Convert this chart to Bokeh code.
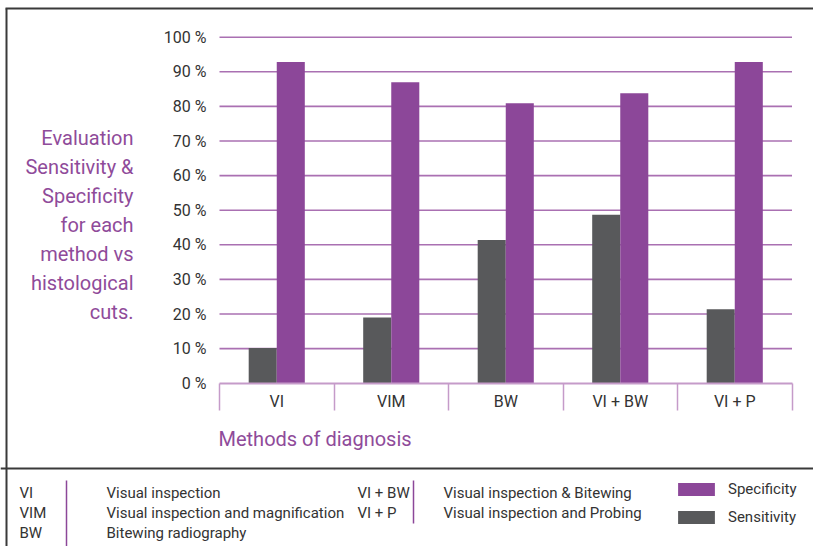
from bokeh.plotting import figure
from bokeh.models import (Range1d, FixedTicker, PrintfTickFormatter,
                          Label, Legend, LegendItem, ColumnDataSource)
from bokeh.embed import file_html
from bokeh.resources import INLINE

# ---------------- data ----------------
categories = ["VI", "VIM", "BW", "VI + BW", "VI + P"]
sensitivity = [10.2, 19.0, 41.4, 48.7, 21.4]
specificity = [92.8, 87.0, 80.9, 83.8, 92.8]
y_ticks = [0, 10, 20, 30, 40, 50, 60, 70, 80, 90, 100]
series_names = ["Specificity", "Sensitivity"]
abbrev_left = ["VI", "VIM", "BW"]
desc_left = ["Visual inspection", "Visual inspection and magnification", "Bitewing radiography"]
abbrev_right = ["VI + BW", "VI  + P"]
desc_right = ["Visual inspection & Bitewing", "Visual inspection and Probing"]
y_title_lines = ["Evaluation", "Sensitivity &", "Specificity", "for each",
                 "method vs", "histological", "cuts."]
x_title = "Methods of diagnosis"

# ---------------- style ----------------
FONT = "Roboto"
PURPLE = "#8c4799"
GRAY = "#58595b"
TEXT = "#333333"
TITLE = "#8f4b9a"
GRID = "#aa70b2"
AXIS = "#c59bc9"
BORDER = "#3a3a3a"

# ---------------- layout (canvas pixels) ----------------
W, H = 813, 546
X0_PX, XU = 219.0, 114.5          # left edge of the category band, px per category
ZERO_PX, YU = 382.7, 3.46         # 0 % line, px per percent


def X(px):
    return (px - X0_PX) / XU


def Y(py):
    return (ZERO_PX - py) / YU


n = len(categories)
idx = list(range(n))
centers = [i + 0.5 for i in idx]
bw = 0.245

source = ColumnDataSource(dict(
    cat=categories,
    x_sens=[c - bw / 2 for c in centers],
    x_spec=[c + bw / 2 for c in centers],
    sens=sensitivity, spec=specificity))

p = figure(width=W, height=H, x_range=Range1d(X(0), X(W)), y_range=Range1d(Y(H), Y(0)),
           output_backend="svg", toolbar_location=None, tools="",
           min_border=0, min_border_left=0, min_border_right=0,
           min_border_top=0, min_border_bottom=0)
p.outline_line_color = None
p.background_fill_color = "white"
p.border_fill_color = "white"
p.grid.visible = False

# horizontal grid lines (within the chart band only)
grid_vals = y_ticks[1:]
p.segment(x0=[0] * len(grid_vals), x1=[n] * len(grid_vals), y0=grid_vals, y1=grid_vals,
          line_color=GRID, line_width=1.6)

# bars
r_sens = p.vbar(x="x_sens", top="sens", bottom=0, width=bw, source=source,
                fill_color=GRAY, line_color=None)
r_spec = p.vbar(x="x_spec", top="spec", bottom=0, width=bw, source=source,
                fill_color=PURPLE, line_color=None)

# y axis (inside the canvas, at the band's left edge)
ya = p.yaxis[0]
ya.fixed_location = 0
ya.bounds = (0, 100)
ya.ticker = FixedTicker(ticks=y_ticks)
ya.formatter = PrintfTickFormatter(format="%d %%")
ya.axis_line_color = None
ya.major_tick_line_color = None
ya.minor_tick_line_color = None
ya.major_label_standoff = 7
ya.major_label_text_font = FONT
ya.major_label_text_font_size = "16px"
ya.major_label_text_color = TEXT

# x axis at 0 %, category names at band centres, dividers as minor ticks
xa = p.xaxis[0]
xa.fixed_location = 0
xa.bounds = (0, n)
xa.ticker = FixedTicker(ticks=centers, minor_ticks=[float(i) for i in range(n + 1)])
xa.major_label_overrides = {c: name for c, name in zip(centers, categories)}
xa.axis_line_color = AXIS
xa.axis_line_width = 2
xa.major_tick_line_color = None
xa.minor_tick_line_color = AXIS
xa.minor_tick_line_width = 1.5
xa.minor_tick_in = 0
xa.minor_tick_out = 27
xa.major_label_standoff = -18
xa.major_label_text_font = FONT
xa.major_label_text_font_size = "16px"
xa.major_label_text_color = TEXT

# titles
title_y0, title_dy = 137.5, 29.0
for i, t in enumerate(y_title_lines):
    p.add_layout(Label(x=X(133), y=Y(title_y0 + i * title_dy), text=t, text_font=FONT,
                       text_font_size="20px", text_color=TITLE,
                       text_align="right", text_baseline="middle"))
p.add_layout(Label(x=X(218), y=Y(438), text=x_title, text_font=FONT, text_font_size="20px",
                   text_color=TITLE, text_align="left", text_baseline="middle"))

# frame lines of the figure and the key
p.segment(x0=[X(6), X(5), X(0)], x1=[X(6), X(W), X(W)],
          y0=[Y(8), Y(8), Y(468)], y1=[Y(H), Y(8), Y(468)],
          line_color=BORDER, line_width=2)
p.segment(x0=[X(66), X(413)], x1=[X(66), X(413)], y0=[Y(480), Y(480)], y1=[Y(H), Y(523)],
          line_color=PURPLE, line_width=1.5)

# key texts
rows_y = [492, 512, 532]


def key_text(x, y, t):
    p.add_layout(Label(x=X(x), y=Y(y), text=t, text_font=FONT, text_font_size="15px",
                       text_color=TEXT, text_baseline="middle"))


for i, t in enumerate(abbrev_left):
    key_text(19, rows_y[i], t)
for i, t in enumerate(desc_left):
    key_text(106, rows_y[i], t)
for i, t in enumerate(abbrev_right):
    key_text(357, rows_y[i], t)
for i, t in enumerate(desc_right):
    key_text(443, rows_y[i], t)

legend = Legend(items=[LegendItem(label=series_names[0], renderers=[r_spec]),
                       LegendItem(label=series_names[1], renderers=[r_sens])],
                location=(673, H - 526), orientation="vertical",
                glyph_width=46, glyph_height=16, label_height=16, spacing=10,
                padding=0, margin=0, label_standoff=9,
                border_line_color=None, background_fill_alpha=0,
                label_text_font=FONT, label_text_font_size="15px", label_text_color=TEXT)
p.add_layout(legend, "center")

open("out.html", "w").write(file_html(p, INLINE))
